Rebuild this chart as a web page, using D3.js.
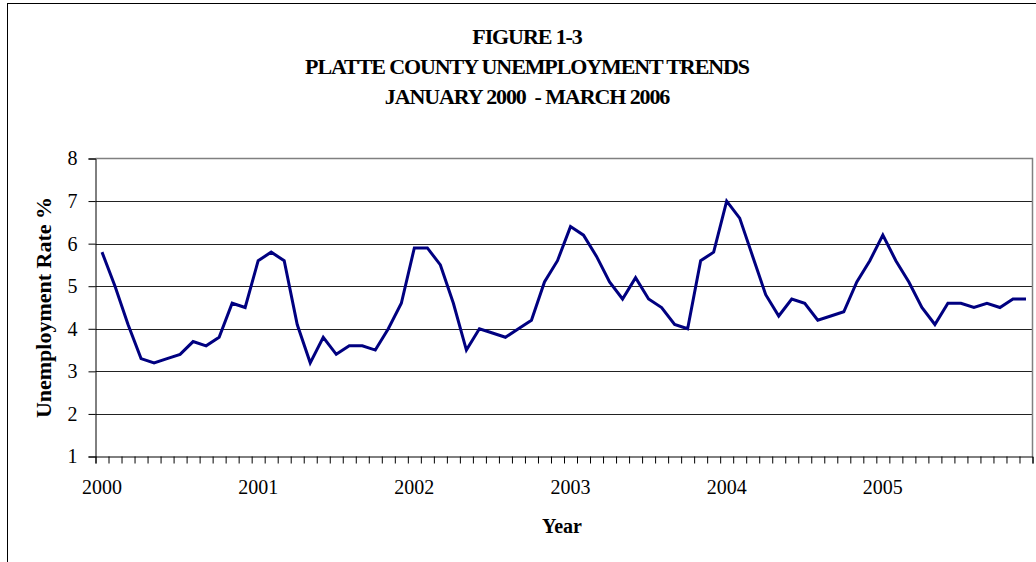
<!DOCTYPE html>
<html lang="en">
<head>
  <meta charset="UTF-8" />
  <title>Platte County Unemployment Trends</title>
  <script src="https://d3js.org/d3.v7.min.js"></script>
  <style>
    body { margin: 0; background: #fff; }
    text { font-family: "Liberation Serif", "Times New Roman", serif; fill: #000; }
    .title { font-weight: bold; font-size: 22px; }
    .tick text { font-size: 20px; font-family: "Liberation Serif", "Times New Roman", serif; }
  </style>
</head>
<body>
  <svg width="1036" height="562"></svg>

  <script>
    const years = ["2000", "2001", "2002", "2003", "2004", "2005"];
    // monthly rates, Jan 2000 - Dec 2005
    const rates = [
      5.8, 5.0, 4.1, 3.3, 3.2, 3.3, 3.4, 3.7, 3.6, 3.8, 4.6, 4.5,
      5.6, 5.8, 5.6, 4.1, 3.2, 3.8, 3.4, 3.6, 3.6, 3.5, 4.0, 4.6,
      5.9, 5.9, 5.5, 4.6, 3.5, 4.0, 3.9, 3.8, 4.0, 4.2, 5.1, 5.6,
      6.4, 6.2, 5.7, 5.1, 4.7, 5.2, 4.7, 4.5, 4.1, 4.0, 5.6, 5.8,
      7.0, 6.6, 5.7, 4.8, 4.3, 4.7, 4.6, 4.2, 4.3, 4.4, 5.1, 5.6,
      6.2, 5.6, 5.1, 4.5, 4.1, 4.6, 4.6, 4.5, 4.6, 4.5, 4.7, 4.7
    ];
    const yTicks = [1, 2, 3, 4, 5, 6, 7, 8];
    const titleLines = ["FIGURE 1-3", "PLATTE COUNTY UNEMPLOYMENT TRENDS", "JANUARY 2000  - MARCH 2006"];

    const svg = d3.select("svg");
    const pLeft = 95.5, pRight = 1032.5, pTop = 158.5, pBottom = 456.5;

    // outer chart frame
    svg.append("rect")
      .attr("x", 7.5).attr("y", 3.5)
      .attr("width", 1100).attr("height", 700)
      .attr("fill", "none").attr("stroke", "#000").attr("stroke-width", 1);

    const x = d3.scaleLinear().domain([0, rates.length]).range([pLeft, pRight]);
    const y = d3.scaleLinear().domain([1, 8]).range([pBottom, pTop]);

    // gridlines
    svg.append("g")
      .selectAll("line")
      .data(yTicks.slice(1, -1))
      .join("line")
      .attr("x1", pLeft).attr("x2", pRight)
      .attr("y1", d => Math.round(y(d)) + 0.5).attr("y2", d => Math.round(y(d)) + 0.5)
      .attr("stroke", "#222").attr("stroke-width", 1);

    // plot area border (top/right)
    svg.append("path")
      .attr("d", `M${pLeft},${pTop}H${pRight}V${pBottom}`)
      .attr("fill", "none").attr("stroke", "#808080").attr("stroke-width", 1.5);

    // y axis
    const yAxis = svg.append("g")
      .attr("transform", `translate(${pLeft},0)`)
      .call(d3.axisLeft(y).tickValues(yTicks).tickSize(7).tickPadding(11).tickFormat(d3.format("d")));
    yAxis.select(".domain").attr("stroke", "#000");
    yAxis.selectAll(".tick line").attr("stroke", "#000");

    // x axis: a tick at every month boundary
    const xAxis = svg.append("g")
      .attr("transform", `translate(0,${pBottom})`)
      .call(d3.axisBottom(x).tickValues(d3.range(rates.length + 1)).tickSize(7).tickFormat(""));
    xAxis.select(".domain").attr("stroke", "#000");
    xAxis.selectAll(".tick line").attr("stroke", "#000");

    // year labels under January of each year
    svg.append("g")
      .selectAll("text")
      .data(years)
      .join("text")
      .attr("x", (d, i) => x(i * 12 + 0.5))
      .attr("y", 494)
      .attr("text-anchor", "middle")
      .style("font-size", "20px")
      .text(d => d);

    // line
    const line = d3.line()
      .x((d, i) => x(i + 0.5))
      .y(d => y(d));
    svg.append("path")
      .datum(rates)
      .attr("d", line)
      .attr("fill", "none")
      .attr("stroke", "#000080")
      .attr("stroke-width", 3)
      .attr("stroke-linejoin", "miter");

    // titles
    svg.append("g")
      .selectAll("text")
      .data(titleLines)
      .join("text")
      .attr("class", "title")
      .attr("x", 527)
      .attr("y", (d, i) => 44 + i * 30)
      .attr("text-anchor", "middle")
      .style("letter-spacing", "-1.1px")
      .style("white-space", "pre")
      .text(d => d);

    svg.append("text")
      .attr("class", "title")
      .style("font-size", "20px")
      .attr("x", 562).attr("y", 533)
      .attr("text-anchor", "middle")
      .text("Year");

    svg.append("text")
      .attr("class", "title")
      .attr("transform", `translate(51,${(pTop + pBottom) / 2}) rotate(-90)`)
      .attr("text-anchor", "middle")
      .text("Unemployment Rate %");
  </script>
</body>
</html>
